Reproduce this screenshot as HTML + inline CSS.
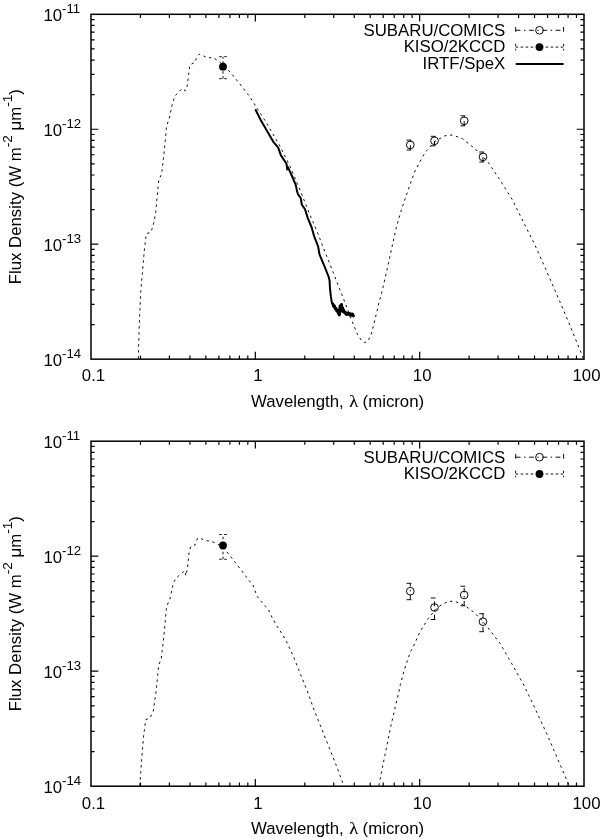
<!DOCTYPE html>
<html><head><meta charset="utf-8"><title>SED</title>
<style>html,body{margin:0;padding:0;background:#fff}svg{display:block}</style></head>
<body>
<svg width="600" height="839" viewBox="0 0 600 839" font-family="'Liberation Sans',Arial,Helvetica,sans-serif" fill="#000">
<rect width="600" height="839" fill="#fff"/>
<path d="M138.3 358.6 L138.9 336.9 L139.7 313.5 L140.9 290.1 L142.6 270.1 L144.2 251.7 L145.9 236.7 L146.8 233.3 L150.3 232.8 L153.1 226.5 L155.8 211.6 L157.9 188.7 L158.9 179.4 L161.5 174.4 L162.9 162.9 L165.1 142.9 L166.5 126.5 L169.2 118.3 L172.5 103.3 L175 95.8 L182.5 88.3 L185.3 90.8 L187 87.5 L189.2 70 L190 64.7 L195 62.5 L196.7 56.7 L199.2 54.2 L203.3 55.8 L207.5 58 L212.5 57.5 L218.3 60.8 L223 65 L228.3 70 L236.7 80 L243.3 88.3 L249.7 96.7 L255 105 L266.25 122.5 L280 146.25 L290 166.25 L300 190 L310 215 L317.5 232.5 L323.75 248.75 L325.3 252.7 L333.3 272.7 L340 290 L345.3 303.3 L351.3 319.3 L357.3 334 L362 341.3 L364.7 342.5 L368 341.3 L371.3 334 L374.7 320.7 L379.5 300.7 L381.1 295.2 L385 278.6 L389 260.7 L392.9 242.9 L396.7 225.7 L401 211.2 L405.7 197.1 L411.4 180.7 L415 171 L425 152.5 L435 141.25 L445 135.75 L452.5 135 L462.5 138.75 L475 148.75 L487.5 161.3 L500 180 L512.5 200 L528.6 232.5 L533.6 242.1 L546.5 270.8 L558.6 298.7 L570.1 325.8 L581.5 353.7 L583.5 358.8" stroke="#000" stroke-width="0.95" fill="none" stroke-dasharray="2.4 3.6"/>
<path d="M255.3 109.3 L260.7 120 L266.5 130 L273.6 142.2 L278.2 147.6 L280.8 155.1 L286.5 163.7 L287.2 169.4 L287.9 167.2 L292.2 176.5 L295.8 185.1 L297.1 191.5 L298 194.3 L300.7 198 L301.8 204.5 L305 209.3 L307.7 217.9 L311.5 227 L314.1 236.1 L318.1 246.3 L319.5 254.4 L322.2 260.8 L325.9 269.9 L328.7 277 L329.6 280.7 L330 288.7 L330.9 296.7 L332 303.3 L333 304 L333.5 306.5 L334.5 306 L335.2 309 L336 308.3 L336.8 311 L337.6 310.5 L338.3 313.5 L339 312 L339.4 315 L340 306 L340.6 311.5 L341 309 L341.6 304.5 L342.2 309.5 L342.8 308 L343.3 311.5 L344 310.5 L344.6 313 L345.5 312.5 L346.3 314.5 L347.2 313 L348 314.2 L349 313.2 L349.8 315 L350.8 313.8 L351.6 315.2 L352.6 314 L353.4 316 L354 315.2" stroke="#000" stroke-width="2" fill="none" stroke-linejoin="round"/>
<path d="M332 303.3 L333 304 L333.5 306.5 L334.5 306 L335.2 309 L336 308.3 L336.8 311 L337.6 310.5 L338.3 313.5 L339 312 L339.4 315 L340 306 L340.6 311.5 L341 309 L341.6 304.5 L342.2 309.5 L342.8 308 L343.3 311.5 L344 310.5 L344.6 313 L345.5 312.5 L346.3 314.5 L347.2 313 L348 314.2 L349 313.2 L349.8 315 L350.8 313.8 L351.6 315.2 L352.6 314 L353.4 316 L354 315.2" stroke="#000" stroke-width="2.8" fill="none" stroke-linejoin="round"/>
<path d="M223 78.7 V56.7 M219.25 78.7 h7.5 M219.25 56.7 h7.5" stroke="#000" stroke-width="0.95" fill="none" stroke-dasharray="2.5 2.5"/>
<circle cx="223" cy="66.7" r="3.9" fill="#000"/>
<path d="M410.3 150 V140.1 M406.55 150 h7.5 M406.55 140.1 h7.5" stroke="#000" stroke-width="0.95" fill="none" stroke-dasharray="4.8 3.5 1.5 3.5"/>
<circle cx="410.3" cy="144.9" r="3.85" fill="none" stroke="#000" stroke-width="0.95"/>
<path d="M434.5 145.8 V136.3 M430.75 145.8 h7.5 M430.75 136.3 h7.5" stroke="#000" stroke-width="0.95" fill="none" stroke-dasharray="4.8 3.5 1.5 3.5"/>
<circle cx="434.5" cy="140.8" r="3.85" fill="none" stroke="#000" stroke-width="0.95"/>
<path d="M464.2 125.8 V115.8 M460.45 125.8 h7.5 M460.45 115.8 h7.5" stroke="#000" stroke-width="0.95" fill="none" stroke-dasharray="4.8 3.5 1.5 3.5"/>
<circle cx="464.2" cy="120.8" r="3.85" fill="none" stroke="#000" stroke-width="0.95"/>
<path d="M483 162 V152 M479.25 162 h7.5 M479.25 152 h7.5" stroke="#000" stroke-width="0.95" fill="none" stroke-dasharray="4.8 3.5 1.5 3.5"/>
<circle cx="483" cy="156.9" r="3.85" fill="none" stroke="#000" stroke-width="0.95"/>
<rect x="91" y="14.3" width="493" height="344.85" fill="none" stroke="#000" stroke-width="1.5"/>
<path d="M140.47 359.15 v-3.6 M140.47 14.3 v3.6 M169.41 359.15 v-3.6 M169.41 14.3 v3.6 M189.94 359.15 v-3.6 M189.94 14.3 v3.6 M205.86 359.15 v-3.6 M205.86 14.3 v3.6 M218.88 359.15 v-3.6 M218.88 14.3 v3.6 M229.88 359.15 v-3.6 M229.88 14.3 v3.6 M239.41 359.15 v-3.6 M239.41 14.3 v3.6 M247.81 359.15 v-3.6 M247.81 14.3 v3.6 M255.33 359.15 v-7.3 M255.33 14.3 v7.3 M304.8 359.15 v-3.6 M304.8 14.3 v3.6 M333.74 359.15 v-3.6 M333.74 14.3 v3.6 M354.27 359.15 v-3.6 M354.27 14.3 v3.6 M370.2 359.15 v-3.6 M370.2 14.3 v3.6 M383.21 359.15 v-3.6 M383.21 14.3 v3.6 M394.21 359.15 v-3.6 M394.21 14.3 v3.6 M403.74 359.15 v-3.6 M403.74 14.3 v3.6 M412.15 359.15 v-3.6 M412.15 14.3 v3.6 M419.67 359.15 v-7.3 M419.67 14.3 v7.3 M469.14 359.15 v-3.6 M469.14 14.3 v3.6 M498.07 359.15 v-3.6 M498.07 14.3 v3.6 M518.61 359.15 v-3.6 M518.61 14.3 v3.6 M534.53 359.15 v-3.6 M534.53 14.3 v3.6 M547.54 359.15 v-3.6 M547.54 14.3 v3.6 M558.54 359.15 v-3.6 M558.54 14.3 v3.6 M568.07 359.15 v-3.6 M568.07 14.3 v3.6 M576.48 359.15 v-3.6 M576.48 14.3 v3.6 M91 324.55 h3.6 M584 324.55 h-3.6 M91 304.3 h3.6 M584 304.3 h-3.6 M91 289.94 h3.6 M584 289.94 h-3.6 M91 278.8 h3.6 M584 278.8 h-3.6 M91 269.7 h3.6 M584 269.7 h-3.6 M91 262.01 h3.6 M584 262.01 h-3.6 M91 255.34 h3.6 M584 255.34 h-3.6 M91 249.46 h3.6 M584 249.46 h-3.6 M91 244.2 h7.3 M584 244.2 h-7.3 M91 209.6 h3.6 M584 209.6 h-3.6 M91 189.35 h3.6 M584 189.35 h-3.6 M91 174.99 h3.6 M584 174.99 h-3.6 M91 163.85 h3.6 M584 163.85 h-3.6 M91 154.75 h3.6 M584 154.75 h-3.6 M91 147.06 h3.6 M584 147.06 h-3.6 M91 140.39 h3.6 M584 140.39 h-3.6 M91 134.51 h3.6 M584 134.51 h-3.6 M91 129.25 h7.3 M584 129.25 h-7.3 M91 94.65 h3.6 M584 94.65 h-3.6 M91 74.4 h3.6 M584 74.4 h-3.6 M91 60.04 h3.6 M584 60.04 h-3.6 M91 48.9 h3.6 M584 48.9 h-3.6 M91 39.8 h3.6 M584 39.8 h-3.6 M91 32.11 h3.6 M584 32.11 h-3.6 M91 25.44 h3.6 M584 25.44 h-3.6 M91 19.56 h3.6 M584 19.56 h-3.6" stroke="#000" stroke-width="1.2" fill="none"/>
<text x="43.4" y="366.05" font-size="16.8">10<tspan dy="-8.1" font-size="13.2">-14</tspan></text>
<text x="43.4" y="251.1" font-size="16.8">10<tspan dy="-8.1" font-size="13.2">-13</tspan></text>
<text x="43.4" y="136.15" font-size="16.8">10<tspan dy="-8.1" font-size="13.2">-12</tspan></text>
<text x="43.4" y="21.2" font-size="16.8">10<tspan dy="-8.1" font-size="13.2">-11</tspan></text>
<text x="93.5" y="381.45" font-size="16.8" text-anchor="middle">0.1</text>
<text x="257.83" y="381.45" font-size="16.8" text-anchor="middle">1</text>
<text x="422.17" y="381.45" font-size="16.8" text-anchor="middle">10</text>
<text x="586.5" y="381.45" font-size="16.8" text-anchor="middle">100</text>
<text x="251" y="407.15" font-size="16.8">Wavelength,</text>
<text transform="translate(353.7 407.15) scale(1.08 1)" font-size="17" text-anchor="middle" font-family="'Liberation Serif','DejaVu Serif',serif" stroke="#000" stroke-width="0.1">λ</text>
<text x="362.6" y="407.15" font-size="16.8">(micron)</text>
<text transform="translate(21 186.72) rotate(-90)" font-size="16.8" text-anchor="middle">Flux Density (W m<tspan dy="-9.2" font-size="13.6">-2</tspan><tspan dy="9.2"> μm</tspan><tspan dy="-9.2" font-size="13.6">-1</tspan><tspan dy="9.2">)</tspan></text>
<text x="505.3" y="35.8" font-size="16.8" text-anchor="end">SUBARU/COMICS</text>
<path d="M515.7 30.3 H563.6 M515.7 27 v6.6 M563.6 27 v6.6" stroke="#000" stroke-width="0.95" fill="none" stroke-dasharray="4.8 3.5 1.5 3.5"/>
<circle cx="539.5" cy="30.3" r="3.85" fill="none" stroke="#000" stroke-width="0.95"/>
<text x="505.3" y="52.47" font-size="16.8" text-anchor="end">KISO/2KCCD</text>
<path d="M515.7 47.1 H563.6 M515.7 43.8 v6.6 M563.6 43.8 v6.6" stroke="#000" stroke-width="0.95" fill="none" stroke-dasharray="2.5 2.5"/>
<circle cx="539.5" cy="47.1" r="3.9" fill="#000"/>
<text x="505.3" y="69.14" font-size="16.8" text-anchor="end">IRTF/SpeX</text>
<path d="M515.7 63.9 H563.6" stroke="#000" stroke-width="2" fill="none"/>
<path d="M139.9 785.5 L140 782.5 L142 755 L143.75 735 L145.75 719.5 L150 718 L153.25 711.25 L156.25 690 L158.75 665 L161.25 658.75 L163.75 637.5 L166.5 607 L170 598.8 L173.3 583.3 L175.8 578.3 L182.5 572.5 L185 570.8 L185.8 575.8 L187.5 568.3 L189.2 550.8 L190.8 546.7 L195 545 L197.5 538.3 L200.8 538.3 L205 540.8 L209.2 540.8 L214.2 542.5 L219.2 545 L223 547.5 L226.7 551.7 L233.3 560 L241.7 570.8 L249.2 580.8 L253.3 585.8 L255 590.8 L256.7 595.8 L264.2 605 L268.3 609.2 L270.8 615 L276.7 625.8 L283.3 635.8 L286.1 640.9 L293.3 656.1 L300.4 674 L307.6 691.9 L314.7 711.6 L321.9 729.4 L329 747.3 L336.2 765.2 L342.5 782.2 L343.8 785.5" stroke="#000" stroke-width="0.95" fill="none" stroke-dasharray="2.4 3.6"/>
<path d="M378.8 785.5 L379.3 783.3 L383.3 763.3 L390 730 L392.5 718.75 L398.75 692.5 L400.3 684.7 L404.7 668.6 L410.1 652.5 L413.3 646.7 L420 631.7 L428.3 618.3 L438.3 606.7 L448.3 601.3 L455 601.3 L465 605.8 L473.3 611.7 L483.3 621.7 L491.7 632.5 L500 643.3 L512.5 665 L523.75 685 L533.3 704.8 L547 734.3 L558.9 761.8 L567.7 782.5 L569 785.5" stroke="#000" stroke-width="0.95" fill="none" stroke-dasharray="2.4 3.6"/>
<path d="M223 559.25 V534.5 M219.25 559.25 h7.5 M219.25 534.5 h7.5" stroke="#000" stroke-width="0.95" fill="none" stroke-dasharray="2.5 2.5"/>
<circle cx="223" cy="545.5" r="3.9" fill="#000"/>
<path d="M410.3 599.7 V583.3 M406.55 599.7 h7.5 M406.55 583.3 h7.5" stroke="#000" stroke-width="0.95" fill="none" stroke-dasharray="4.8 3.5 1.5 3.5"/>
<circle cx="410.3" cy="591.2" r="3.85" fill="none" stroke="#000" stroke-width="0.95"/>
<path d="M434.5 619.5 V598 M430.75 619.5 h7.5 M430.75 598 h7.5" stroke="#000" stroke-width="0.95" fill="none" stroke-dasharray="4.8 3.5 1.5 3.5"/>
<circle cx="434.5" cy="607.5" r="3.85" fill="none" stroke="#000" stroke-width="0.95"/>
<path d="M464.2 605.8 V586.2 M460.45 605.8 h7.5 M460.45 586.2 h7.5" stroke="#000" stroke-width="0.95" fill="none" stroke-dasharray="4.8 3.5 1.5 3.5"/>
<circle cx="464.2" cy="595" r="3.85" fill="none" stroke="#000" stroke-width="0.95"/>
<path d="M483 631.7 V613.7 M479.25 631.7 h7.5 M479.25 613.7 h7.5" stroke="#000" stroke-width="0.95" fill="none" stroke-dasharray="4.8 3.5 1.5 3.5"/>
<circle cx="483" cy="621.7" r="3.85" fill="none" stroke="#000" stroke-width="0.95"/>
<rect x="91" y="441.2" width="493" height="345" fill="none" stroke="#000" stroke-width="1.5"/>
<path d="M140.47 786.2 v-3.6 M140.47 441.2 v3.6 M169.41 786.2 v-3.6 M169.41 441.2 v3.6 M189.94 786.2 v-3.6 M189.94 441.2 v3.6 M205.86 786.2 v-3.6 M205.86 441.2 v3.6 M218.88 786.2 v-3.6 M218.88 441.2 v3.6 M229.88 786.2 v-3.6 M229.88 441.2 v3.6 M239.41 786.2 v-3.6 M239.41 441.2 v3.6 M247.81 786.2 v-3.6 M247.81 441.2 v3.6 M255.33 786.2 v-7.3 M255.33 441.2 v7.3 M304.8 786.2 v-3.6 M304.8 441.2 v3.6 M333.74 786.2 v-3.6 M333.74 441.2 v3.6 M354.27 786.2 v-3.6 M354.27 441.2 v3.6 M370.2 786.2 v-3.6 M370.2 441.2 v3.6 M383.21 786.2 v-3.6 M383.21 441.2 v3.6 M394.21 786.2 v-3.6 M394.21 441.2 v3.6 M403.74 786.2 v-3.6 M403.74 441.2 v3.6 M412.15 786.2 v-3.6 M412.15 441.2 v3.6 M419.67 786.2 v-7.3 M419.67 441.2 v7.3 M469.14 786.2 v-3.6 M469.14 441.2 v3.6 M498.07 786.2 v-3.6 M498.07 441.2 v3.6 M518.61 786.2 v-3.6 M518.61 441.2 v3.6 M534.53 786.2 v-3.6 M534.53 441.2 v3.6 M547.54 786.2 v-3.6 M547.54 441.2 v3.6 M558.54 786.2 v-3.6 M558.54 441.2 v3.6 M568.07 786.2 v-3.6 M568.07 441.2 v3.6 M576.48 786.2 v-3.6 M576.48 441.2 v3.6 M91 751.58 h3.6 M584 751.58 h-3.6 M91 731.33 h3.6 M584 731.33 h-3.6 M91 716.96 h3.6 M584 716.96 h-3.6 M91 705.82 h3.6 M584 705.82 h-3.6 M91 696.71 h3.6 M584 696.71 h-3.6 M91 689.01 h3.6 M584 689.01 h-3.6 M91 682.34 h3.6 M584 682.34 h-3.6 M91 676.46 h3.6 M584 676.46 h-3.6 M91 671.2 h7.3 M584 671.2 h-7.3 M91 636.58 h3.6 M584 636.58 h-3.6 M91 616.33 h3.6 M584 616.33 h-3.6 M91 601.96 h3.6 M584 601.96 h-3.6 M91 590.82 h3.6 M584 590.82 h-3.6 M91 581.71 h3.6 M584 581.71 h-3.6 M91 574.01 h3.6 M584 574.01 h-3.6 M91 567.34 h3.6 M584 567.34 h-3.6 M91 561.46 h3.6 M584 561.46 h-3.6 M91 556.2 h7.3 M584 556.2 h-7.3 M91 521.58 h3.6 M584 521.58 h-3.6 M91 501.33 h3.6 M584 501.33 h-3.6 M91 486.96 h3.6 M584 486.96 h-3.6 M91 475.82 h3.6 M584 475.82 h-3.6 M91 466.71 h3.6 M584 466.71 h-3.6 M91 459.01 h3.6 M584 459.01 h-3.6 M91 452.34 h3.6 M584 452.34 h-3.6 M91 446.46 h3.6 M584 446.46 h-3.6" stroke="#000" stroke-width="1.2" fill="none"/>
<text x="43.4" y="793.1" font-size="16.8">10<tspan dy="-8.1" font-size="13.2">-14</tspan></text>
<text x="43.4" y="678.1" font-size="16.8">10<tspan dy="-8.1" font-size="13.2">-13</tspan></text>
<text x="43.4" y="563.1" font-size="16.8">10<tspan dy="-8.1" font-size="13.2">-12</tspan></text>
<text x="43.4" y="448.1" font-size="16.8">10<tspan dy="-8.1" font-size="13.2">-11</tspan></text>
<text x="93.5" y="808.5" font-size="16.8" text-anchor="middle">0.1</text>
<text x="257.83" y="808.5" font-size="16.8" text-anchor="middle">1</text>
<text x="422.17" y="808.5" font-size="16.8" text-anchor="middle">10</text>
<text x="586.5" y="808.5" font-size="16.8" text-anchor="middle">100</text>
<text x="251" y="834.2" font-size="16.8">Wavelength,</text>
<text transform="translate(353.7 834.2) scale(1.08 1)" font-size="17" text-anchor="middle" font-family="'Liberation Serif','DejaVu Serif',serif" stroke="#000" stroke-width="0.1">λ</text>
<text x="362.6" y="834.2" font-size="16.8">(micron)</text>
<text transform="translate(21 613.7) rotate(-90)" font-size="16.8" text-anchor="middle">Flux Density (W m<tspan dy="-9.2" font-size="13.6">-2</tspan><tspan dy="9.2"> μm</tspan><tspan dy="-9.2" font-size="13.6">-1</tspan><tspan dy="9.2">)</tspan></text>
<text x="505.3" y="462.7" font-size="16.8" text-anchor="end">SUBARU/COMICS</text>
<path d="M515.7 457.2 H563.6 M515.7 453.9 v6.6 M563.6 453.9 v6.6" stroke="#000" stroke-width="0.95" fill="none" stroke-dasharray="4.8 3.5 1.5 3.5"/>
<circle cx="539.5" cy="457.2" r="3.85" fill="none" stroke="#000" stroke-width="0.95"/>
<text x="505.3" y="479.37" font-size="16.8" text-anchor="end">KISO/2KCCD</text>
<path d="M515.7 474 H563.6 M515.7 470.7 v6.6 M563.6 470.7 v6.6" stroke="#000" stroke-width="0.95" fill="none" stroke-dasharray="2.5 2.5"/>
<circle cx="539.5" cy="474" r="3.9" fill="#000"/>
</svg>
</body></html>
